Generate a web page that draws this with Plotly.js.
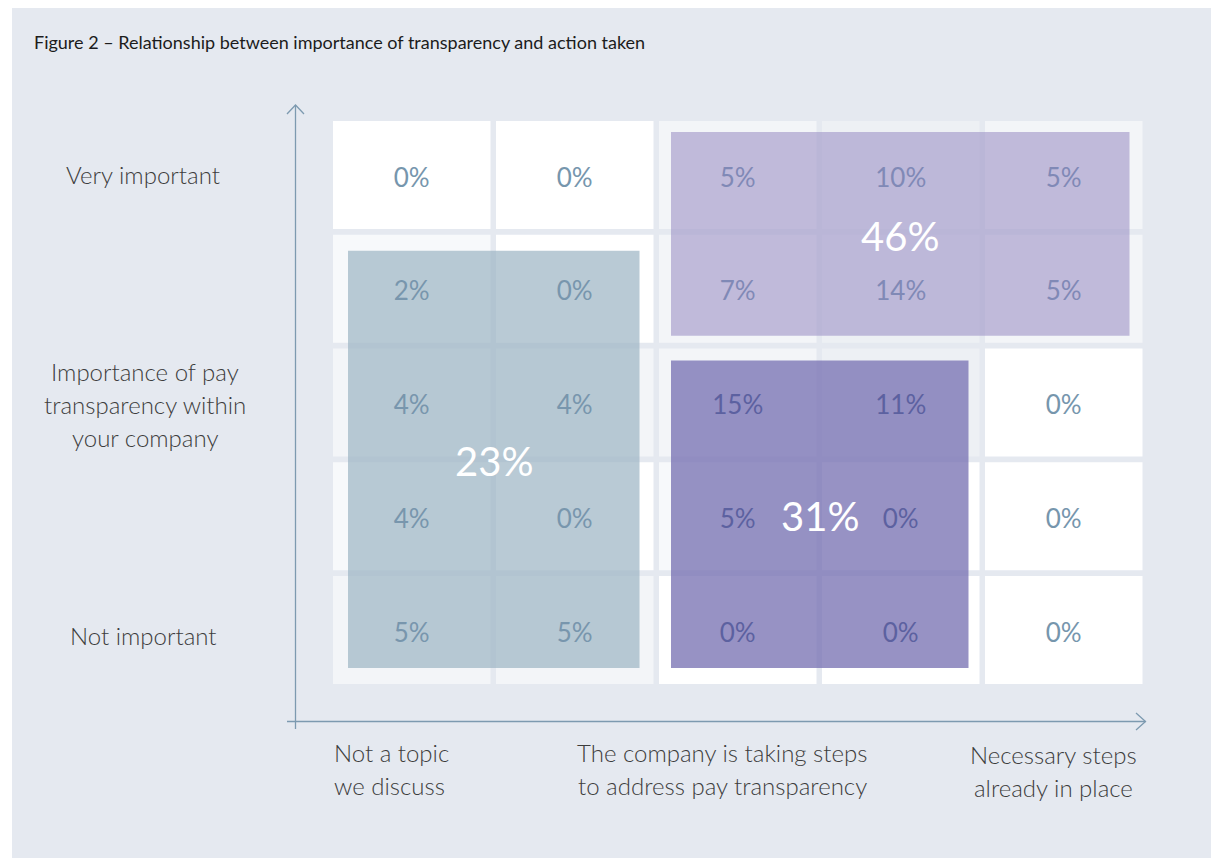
<!DOCTYPE html>
<html>
<head>
<meta charset="utf-8">
<script src="https://cdn.plot.ly/plotly-3.0.1.min.js"></script>
<style>html,body{margin:0;padding:0;background:#fff;}#chart{width:1211px;height:859px;}</style>
</head>
<body>
<div id="chart"></div>
<script>
// ---------------- DATA ----------------
const chartTitle = 'Figure 2 \u2013 Relationship between importance of transparency and action taken';
// action taken (x): column index 0..4
const actionLevels = [0, 1, 2, 3, 4];
// importance (y): 4 = very important ... 0 = not important (rows top to bottom)
const importanceLevels = [4, 3, 2, 1, 0];
// share of respondents (%) per row, top row first
const rowVeryImportant = [0, 0, 5, 10, 5];
const rowImportant     = [2, 0, 7, 14, 5];
const rowMiddle        = [4, 4, 15, 11, 0];
const rowLessImportant = [4, 0, 5, 0, 0];
const rowNotImportant  = [5, 5, 0, 0, 0];
const shareRows = [rowVeryImportant, rowImportant, rowMiddle, rowLessImportant, rowNotImportant];

// grouped totals
const groupTotals = [23, 46, 31];
const groupColRange = [[0, 1], [2, 4], [2, 3]];
const groupRowRange = [[0, 3], [3, 4], [0, 2]];

const yTickLabels = ['Very important', 'Importance of pay<br>transparency within<br>your company', 'Not important'];
const yTickValues = [4, 2, 0];
const xTickLabels = ['Not a topic<br>we discuss', 'The company is taking steps<br>to address pay transparency', 'Necessary steps<br>already in place'];

// ---------------- STYLE / LAYOUT ----------------
const W = 1211, H = 859;
const colPitch = 163, rowPitch = 113.75;
const col0px = 411.75, row0px = 630;           // pixel centres of column 0 / level 0
const cellHalfW = 78.75 / colPitch, cellHalfH = 54 / rowPitch;
const xRange = [-col0px / colPitch, (W - col0px) / colPitch];
const yRange = [(row0px - H) / rowPitch, row0px / rowPitch];
const textShift = -5 / rowPitch;

const FONT = 'Lato, "Open Sans", sans-serif';
const valueColor = '#7696ad';
const groupTextColor = ['#7896ad', '#8089b6', '#5c61a0'];
const labelColor = '#3d3d3d';
const axisColor = '#7d9ab0';
const panelColor = '#e5e9f0';
const lineGap = 33;

// cell background tints (w white, l lighter grey, g light grey, d grey) rows top->bottom
const cellTints = [
  ['w', 'w', 'g', 'd', 'g'],
  ['l', 'w', 'g', 'd', 'g'],
  ['g', 'g', 'g', 'd', 'w'],
  ['l', 'w', 'l', 'w', 'w'],
  ['g', 'g', 'w', 'w', 'w']
];
const tintColor = {w: '#ffffff', l: '#f7f9fb', g: '#f3f5f8', d: '#edf0f4'};

const groupFill = ['rgba(160,184,198,0.74)', 'rgba(160,150,200,0.62)', 'rgba(118,112,178,0.76)'];
const groupInset = [ // px: left, right, top, bottom
  [15, 14, 16, 16],
  [12, 13, 11, 7],
  [12, 11, 12, 16]
];

const pxX = p => p / W;
const pxY = p => 1 - p / H;

const shapes = [];
// panel
shapes.push({type: 'rect', xref: 'paper', yref: 'paper', x0: pxX(12), x1: pxX(1211), y0: pxY(858), y1: pxY(8),
  fillcolor: panelColor, line: {width: 0}, layer: 'below'});

const groupOf = (col, lvl) => {
  for (let i = 0; i < groupTotals.length; i++) {
    const [c0, c1] = groupColRange[i], [r0, r1] = groupRowRange[i];
    if (col >= c0 && col <= c1 && lvl >= r0 && lvl <= r1) return i;
  }
  return -1;
};

// cells
const tx = [], ty = [], tt = [], tc = [];
shareRows.forEach((row, r) => {
  const lvl = importanceLevels[r];
  row.forEach((v, c) => {
    const col = actionLevels[c];
    shapes.push({type: 'rect', xref: 'x', yref: 'y',
      x0: col - cellHalfW, x1: col + cellHalfW, y0: lvl - cellHalfH, y1: lvl + cellHalfH,
      fillcolor: tintColor[cellTints[r][c]], line: {width: 0}, layer: 'below'});
    tx.push(col); ty.push(lvl + textShift); tt.push(v + '%');
    const g = groupOf(col, lvl);
    tc.push(g < 0 ? valueColor : groupTextColor[g]);
  });
});

// group overlays (below the value text)
const annotations = [];
groupTotals.forEach((g, i) => {
  const [c0, c1] = groupColRange[i];
  const [r0, r1] = groupRowRange[i];
  const ins = groupInset[i];
  const x0 = c0 - cellHalfW + ins[0] / colPitch;
  const x1 = c1 + cellHalfW - ins[1] / colPitch;
  const y1 = r1 + cellHalfH - ins[2] / rowPitch;
  const y0 = r0 - cellHalfH + ins[3] / rowPitch;
  shapes.push({type: 'rect', xref: 'x', yref: 'y', x0, x1, y0, y1,
    fillcolor: groupFill[i], line: {width: 0}, layer: 'below'});
  annotations.push({xref: 'x', yref: 'y', x: (x0 + x1) / 2, y: (y0 + y1) / 2 - 2 / rowPitch, text: g + '%',
    showarrow: false, font: {family: FONT, size: 40, color: '#ffffff'}, xanchor: 'center', yanchor: 'middle'});
});

// axis arrows
const lineStyle = {color: axisColor, width: 1.3};
shapes.push({type: 'line', xref: 'paper', yref: 'paper', x0: pxX(295.5), x1: pxX(295.5), y0: pxY(729), y1: pxY(105), line: lineStyle, layer: 'above'});
shapes.push({type: 'path', xref: 'paper', yref: 'paper',
  path: `M ${pxX(287)} ${pxY(114)} L ${pxX(295.5)} ${pxY(105)} L ${pxX(304)} ${pxY(114)}`, line: lineStyle, layer: 'above'});
shapes.push({type: 'line', xref: 'paper', yref: 'paper', x0: pxX(287), x1: pxX(1145.5), y0: pxY(721.5), y1: pxY(721.5), line: lineStyle, layer: 'above'});
shapes.push({type: 'path', xref: 'paper', yref: 'paper',
  path: `M ${pxX(1136)} ${pxY(713)} L ${pxX(1145.5)} ${pxY(721.5)} L ${pxX(1136)} ${pxY(730)}`, line: lineStyle, layer: 'above'});

const labelFont = {family: FONT, size: 24, color: labelColor, weight: 300};
// y labels (one annotation per line for exact line spacing)
const yLabelX = [143, 145, 143];
const yLabelDy = [-1, 2, 5];
yTickLabels.forEach((t, i) => {
  const lines = t.split('<br>');
  const centerPx = row0px - yTickValues[i] * rowPitch + yLabelDy[i];
  lines.forEach((ln, k) => {
    const p = centerPx + (k - (lines.length - 1) / 2) * lineGap;
    annotations.push({xref: 'paper', yref: 'paper', x: pxX(yLabelX[i]), y: pxY(p), text: ln, showarrow: false,
      xanchor: 'center', yanchor: 'middle', font: labelFont});
  });
});
// x labels
const xLabelPos = [[332, 'left'], [722, 'center'], [1053, 'center']];
const xLabelY = [752, 752, 754];
xTickLabels.forEach((t, i) => {
  t.split('<br>').forEach((ln, k) => {
    annotations.push({xref: 'paper', yref: 'paper', x: pxX(xLabelPos[i][0]), y: pxY(xLabelY[i] + k * lineGap), text: ln, showarrow: false,
      xanchor: xLabelPos[i][1], yanchor: 'middle', font: labelFont});
  });
});
// title
annotations.push({xref: 'paper', yref: 'paper', x: pxX(32), y: pxY(42), text: chartTitle, showarrow: false,
  xanchor: 'left', yanchor: 'middle', font: {family: FONT, size: 18, color: '#1c1c1c'}});

const trace = {type: 'scatter', mode: 'text', x: tx, y: ty, text: tt,
  textposition: 'middle center', textfont: {family: FONT, size: 26, color: tc},
  hoverinfo: 'skip', showlegend: false};

const layout = {
  width: W, height: H, margin: {l: 0, r: 0, t: 0, b: 0},
  paper_bgcolor: '#ffffff', plot_bgcolor: 'rgba(0,0,0,0)',
  xaxis: {range: xRange, visible: false, fixedrange: true},
  yaxis: {range: yRange, visible: false, fixedrange: true},
  shapes, annotations, showlegend: false
};
Plotly.newPlot('chart', [trace], layout, {displayModeBar: false, staticPlot: true});
</script>
</body>
</html>
